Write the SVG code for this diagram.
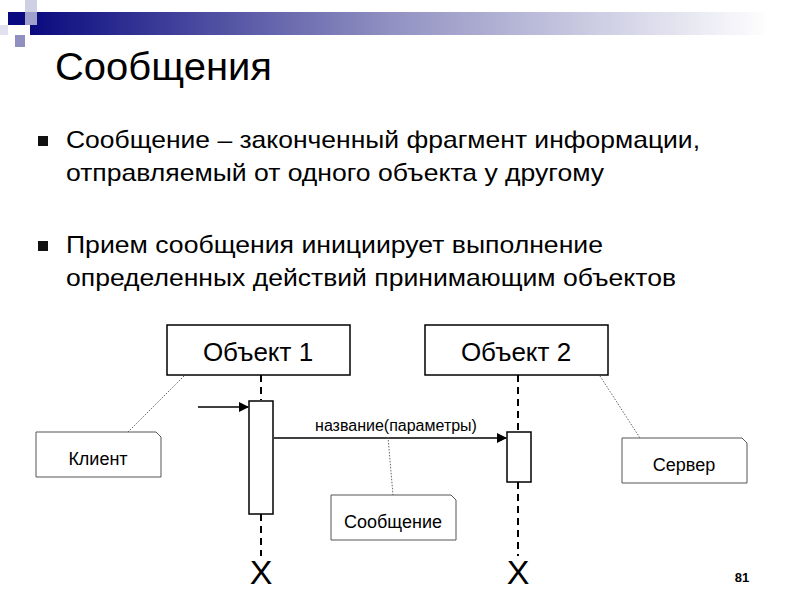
<svg xmlns="http://www.w3.org/2000/svg" width="800" height="600" viewBox="0 0 800 600">
<defs>
<linearGradient id="g" x1="0" x2="1"><stop offset="0" stop-color="#0a0a80"/><stop offset="0.5" stop-color="#9494c4"/><stop offset="1" stop-color="#ffffff"/></linearGradient>
<marker id="ar" markerWidth="10" markerHeight="10" refX="9" refY="5" orient="auto" markerUnits="userSpaceOnUse"><path d="M0,0 L10,5 L0,10 z" fill="#000"/></marker>
<style>
text{font-family:"Liberation Sans",Arial,sans-serif;fill:#000}
.box{fill:#fff;stroke:#000;stroke-width:1.5}
.note{fill:#fff;stroke:#555;stroke-width:1}
.dash{stroke:#000;stroke-width:2;stroke-dasharray:7,5;fill:none}
.dot{stroke:#666;stroke-width:1;stroke-dasharray:1.5,1.5;fill:none}
</style>
</defs>
<rect x="0" y="0" width="800" height="600" fill="#fff"/>
<rect x="30" y="12" width="740" height="23" fill="url(#g)"/>
<rect x="25" y="0" width="12" height="12" fill="#d0d0e4"/>
<rect x="8" y="12" width="17" height="13" fill="#0a0a80"/>
<rect x="25" y="12" width="12" height="13" fill="#a0a0cc"/>
<rect x="15" y="35" width="10" height="12" fill="#9090c0"/>
<rect x="0" y="25" width="8" height="10" fill="#e0e0ee"/>
<text x="55" y="80" font-size="38" textLength="217" lengthAdjust="spacingAndGlyphs">Сообщения</text>
<rect x="38" y="136" width="10" height="10" fill="#111"/>
<text x="66" y="148" font-size="24" textLength="634" lengthAdjust="spacingAndGlyphs">Сообщение – законченный фрагмент информации,</text>
<text x="66" y="181" font-size="24" textLength="538" lengthAdjust="spacingAndGlyphs">отправляемый от одного объекта у другому</text>
<rect x="38" y="241" width="10" height="10" fill="#111"/>
<text x="66" y="253" font-size="24" textLength="537" lengthAdjust="spacingAndGlyphs">Прием сообщения инициирует выполнение</text>
<text x="66" y="286" font-size="24" textLength="610" lengthAdjust="spacingAndGlyphs">определенных действий принимающим объектов</text>
<g id="connectors">
<line class="dash" x1="261" y1="375" x2="261" y2="400"/>
<line class="dash" x1="261" y1="514" x2="261" y2="556"/>
<line class="dash" x1="518" y1="375" x2="518" y2="432"/>
<line class="dash" x1="518" y1="482" x2="518" y2="556"/>
<line x1="198" y1="407" x2="248" y2="407" stroke="#000" stroke-width="1.5" marker-end="url(#ar)"/>
<line x1="274" y1="438" x2="506" y2="438" stroke="#000" stroke-width="1.5" marker-end="url(#ar)"/>
<line class="dot" x1="184" y1="376" x2="128" y2="432"/>
<line class="dot" x1="600" y1="376" x2="640" y2="438"/>
<line class="dot" x1="388" y1="437" x2="393" y2="495"/>
</g>
<g id="obj1"><rect class="box" x="167" y="325" width="183" height="50"/><text x="258" y="361" font-size="26" text-anchor="middle">Объект 1</text></g>
<g id="obj2"><rect class="box" x="425" y="325" width="183" height="50"/><text x="516" y="361" font-size="26" text-anchor="middle">Объект 2</text></g>
<g id="act1"><rect class="box" x="249" y="401" width="24" height="113" stroke-width="1"/></g>
<g id="act2"><rect class="box" x="507" y="432" width="24" height="50" stroke-width="1"/></g>
<text x="396" y="431" font-size="16" text-anchor="middle">название(параметры)</text>
<g id="client"><path class="note" d="M36,432 H156 L161,437 V477 H36 Z"/><text x="98" y="465" font-size="18" text-anchor="middle">Клиент</text></g>
<g id="server"><path class="note" d="M622,438 H742 L747,443 V483 H622 Z"/><text x="684" y="471" font-size="18" text-anchor="middle">Сервер</text></g>
<g id="msg"><path class="note" d="M331,495 H451 L456,500 V540 H331 Z"/><text x="393" y="528" font-size="18" text-anchor="middle">Сообщение</text></g>
<text x="261" y="584" font-size="34" text-anchor="middle">X</text>
<text x="518" y="584" font-size="34" text-anchor="middle">X</text>
<text x="742" y="582" font-size="13" font-weight="bold" text-anchor="middle">81</text>
</svg>
